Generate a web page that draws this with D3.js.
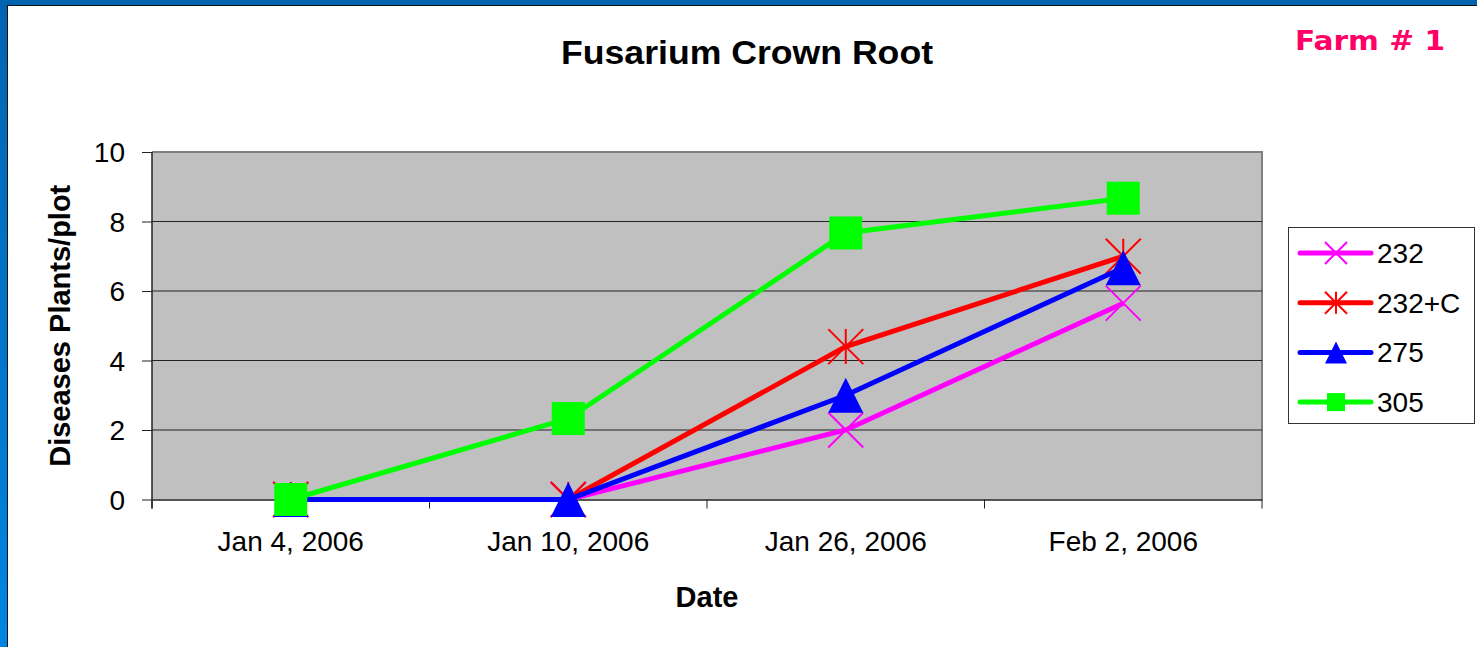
<!DOCTYPE html>
<html>
<head>
<meta charset="utf-8">
<script src="https://cdn.jsdelivr.net/npm/d3@7"></script>
<style>
  body { margin: 0; background: #fff; }
  svg { display: block; }
</style>
</head>
<body>
<svg id="canvas" width="1477" height="647"></svg>
<script>
// dates along the bottom
let dates = ['Jan 4, 2006', 'Jan 10, 2006', 'Jan 26, 2006', 'Feb 2, 2006'];

// diseased plants per plot, one list for each variety
let v232 = [0, 0, 2, 5.65];
let v232c = [0, 0, 4.4, 7];
let v275 = [0, 0, 3, 6.67];
let v305 = [0, 2.33, 7.67, 8.67];

let yTicks = [0, 2, 4, 6, 8, 10];

let series = [
    { name: '232', values: v232, color: '#ff00ff', marker: 'x' },
    { name: '232+C', values: v232c, color: '#ff0000', marker: 'star' },
    { name: '275', values: v275, color: '#0000ff', marker: 'tri' },
    { name: '305', values: v305, color: '#00ff00', marker: 'square' }
];

let canvas = d3.select('#canvas');
let font = 'Liberation Sans, Arial, sans-serif';

// frame round the slide
let grad = canvas.append('defs').append('linearGradient')
    .attr('id', 'side').attr('x1', 0).attr('y1', 0).attr('x2', 0).attr('y2', 1);
grad.append('stop').attr('offset', '0%').attr('stop-color', '#0064b0');
grad.append('stop').attr('offset', '100%').attr('stop-color', '#0086e2');
canvas.append('rect').attr('x', 0).attr('y', 0).attr('width', 7).attr('height', 647).attr('fill', 'url(#side)');
canvas.append('rect').attr('x', 0).attr('y', 0).attr('width', 1477).attr('height', 5).attr('fill', '#0064b0');
canvas.append('line').attr('x1', 7.5).attr('x2', 7.5).attr('y1', 5).attr('y2', 647).attr('stroke', '#111').attr('stroke-width', 1);
canvas.append('line').attr('x1', 7).attr('x2', 1477).attr('y1', 5.5).attr('y2', 5.5).attr('stroke', '#111').attr('stroke-width', 1);

let plotL = 152, plotR = 1262, plotT = 152, plotB = 499.5;

let x = d3.scaleBand().domain(dates).range([plotL, plotR]);
let y = d3.scaleLinear().domain([0, 10]).range([plotB, plotT]);

// plot area
canvas.append('rect')
    .attr('x', plotL).attr('y', plotT)
    .attr('width', plotR - plotL).attr('height', plotB - plotT)
    .attr('fill', '#c0c0c0');
canvas.append('path')
    .attr('d', `M${plotL},${plotT}H${plotR}V${plotB}`)
    .attr('fill', 'none').attr('stroke', '#808080').attr('stroke-width', 2);

// gridlines
canvas.append('g').selectAll('line')
    .data(yTicks.filter(d => d > 0 && d < 10))
    .enter().append('line')
    .attr('x1', plotL).attr('x2', plotR)
    .attr('y1', d => y(d)).attr('y2', d => y(d))
    .attr('stroke', '#222').attr('stroke-width', 1);

// y axis
let yAxis = canvas.append('g')
    .attr('transform', `translate(${plotL},0)`)
    .call(d3.axisLeft(y).tickValues(yTicks).tickSize(10).tickPadding(17));
yAxis.select('.domain').attr('stroke', '#222').attr('stroke-width', 1.5)
    .attr('d', `M0,${plotT}V${plotB + 9}`);
yAxis.selectAll('.tick line').attr('stroke', '#222');
yAxis.selectAll('text').attr('font-family', font).attr('font-size', 28).attr('fill', '#000')
    .attr('dy', '0.34em');

// x axis, ticks sit between the dates
let xAxis = canvas.append('g')
    .attr('transform', `translate(0,${plotB})`)
    .call(d3.axisBottom(x).tickSize(0).tickPadding(32));
xAxis.select('.domain').attr('stroke', '#222').attr('stroke-width', 1.5);
xAxis.selectAll('text').attr('font-family', font).attr('font-size', 28).attr('fill', '#000');
xAxis.selectAll('.sep')
    .data(dates.map(d => x(d)).concat([plotR]))
    .enter().append('line')
    .attr('x1', d => d).attr('x2', d => d)
    .attr('y1', 0).attr('y2', 9)
    .attr('stroke', '#222').attr('stroke-width', 1);

// markers
let drawMarker = (g, kind, color, s) => {
    let h = s / 2;
    if (kind === 'square') {
        g.append('rect').attr('x', -h).attr('y', -h).attr('width', s).attr('height', s).attr('fill', color);
    } else if (kind === 'tri') {
        g.append('path').attr('d', `M0,${-h}L${h},${h}L${-h},${h}Z`).attr('fill', color);
    } else if (kind === 'x') {
        g.append('path').attr('d', `M${-h},${-h}L${h},${h}M${h},${-h}L${-h},${h}`)
            .attr('stroke', color).attr('stroke-width', 2).attr('fill', 'none');
    } else {
        g.append('path').attr('d', `M${-h},${-h}L${h},${h}M${h},${-h}L${-h},${h}M0,${-h}V${h}`)
            .attr('stroke', color).attr('stroke-width', 2).attr('fill', 'none');
    }
};

let line = d3.line()
    .x((d, i) => x(dates[i]) + x.bandwidth() / 2)
    .y(d => y(d));

series.forEach(s => {
    canvas.append('path')
        .attr('d', line(s.values))
        .attr('fill', 'none')
        .attr('stroke', s.color)
        .attr('stroke-width', 5);
    s.values.forEach((v, i) => {
        let g = canvas.append('g')
            .attr('transform', `translate(${x(dates[i]) + x.bandwidth() / 2},${y(v)})`);
        drawMarker(g, s.marker, s.color, s.marker === 'square' ? 33 : 35);
    });
});

// titles
canvas.append('text')
    .attr('x', 747).attr('y', 64)
    .attr('text-anchor', 'middle')
    .attr('font-family', font).attr('font-weight', 'bold').attr('font-size', 34)
    .attr('textLength', 372).attr('lengthAdjust', 'spacingAndGlyphs')
    .text('Fusarium Crown Root');
canvas.append('text')
    .attr('x', 707).attr('y', 607)
    .attr('text-anchor', 'middle')
    .attr('font-family', font).attr('font-weight', 'bold').attr('font-size', 29)
    .text('Date');
canvas.append('text')
    .attr('transform', `translate(70,${(plotT + plotB) / 2}) rotate(-90)`)
    .attr('text-anchor', 'middle')
    .attr('font-family', font).attr('font-weight', 'bold').attr('font-size', 29)
    .text('Diseases Plants/plot');
canvas.append('text')
    .attr('x', 1295).attr('y', 50)
    .attr('font-family', '"Comic Sans MS", "DejaVu Sans", sans-serif')
    .attr('font-weight', 'bold').attr('font-size', 26)
    .attr('fill', '#ff0066')
    .attr('textLength', 150).attr('lengthAdjust', 'spacingAndGlyphs')
    .text('Farm # 1');

// legend
let legend = canvas.append('g');
legend.append('rect')
    .attr('x', 1288.5).attr('y', 227.5).attr('width', 186).attr('height', 196)
    .attr('fill', '#fff').attr('stroke', '#333').attr('stroke-width', 1);
series.forEach((s, i) => {
    let ly = 253 + i * 49.7;
    legend.append('line')
        .attr('x1', 1300).attr('x2', 1371).attr('y1', ly).attr('y2', ly)
        .attr('stroke', s.color).attr('stroke-width', 5).attr('stroke-linecap', 'round');
    let g = legend.append('g').attr('transform', `translate(1336,${ly})`);
    drawMarker(g, s.marker, s.color, s.marker === 'square' ? 18 : 22);
    legend.append('text')
        .attr('x', 1377).attr('y', ly + 10)
        .attr('font-family', font).attr('font-size', 28)
        .text(s.name);
});
</script>
</body>
</html>
